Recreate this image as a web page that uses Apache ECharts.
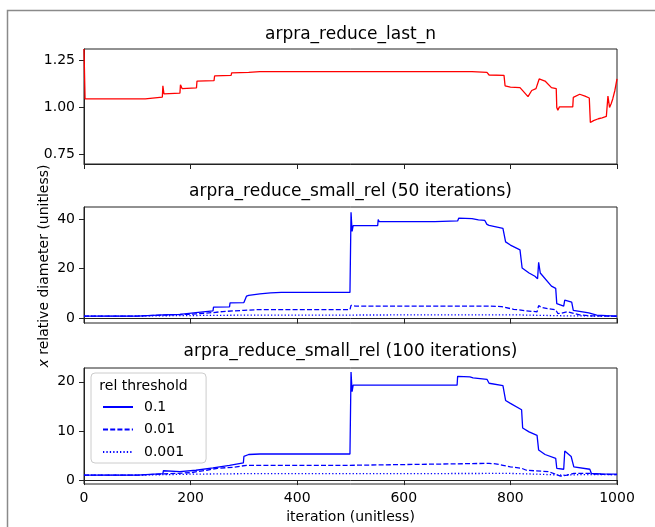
<!DOCTYPE html>
<html>
<head>
<meta charset="utf-8">
<script src="https://cdn.jsdelivr.net/npm/echarts@6/dist/echarts.min.js"></script>
<style>
html,body{margin:0;padding:0;background:#fff;}
#chart{width:655px;height:527px;}
</style>
</head>
<body>
<div id="chart"></div>
<script>
// ---- data ----
const xTicks = [0, 200, 400, 600, 800, 1000];
const topTicks = [0.75, 1.00, 1.25];
const midTicks = [0, 20, 40];
const botTicks = [0, 10, 20];
const legendNames = ['0.1', '0.01', '0.001'];

const redX = [0,2,10,12,14,115,116,147,148,150,180,181,184,211,212,244,245,276,277,309,330,728,756,760,788,790,800,818,826,833,840,848,854,860,865,877,886,887,889,892,917,918,930,940,948,950,953,956,959,965,972,980,983,986,989,992,996,1000];
const redY = [1.31,1.045,1.045,1.052,1.045,1.045,1.052,1.055,1.115,1.072,1.076,1.12,1.10,1.104,1.14,1.142,1.167,1.170,1.183,1.186,1.19,1.19,1.186,1.172,1.170,1.115,1.108,1.105,1.08,1.057,1.09,1.10,1.151,1.145,1.14,1.105,1.10,1.00,0.985,1.003,1.003,1.053,1.07,1.06,1.05,0.92,0.915,0.93,0.92,0.94,0.945,0.952,1.06,1.00,1.02,1.045,1.09,1.151];

const s50X = [0,100,102,148,149,151,180,181,210,211,242,243,273,274,300,305,309,330,350,370,452,453,455,499,501,503,505,551,552,554,658,660,701,703,728,740,752,753,756,760,786,788,791,800,818,822,835,846,851,853,856,877,885,887,900,902,915,918,947,962,980,1000];
const s50Y = [1.0,1.0,1.4,1.5,2.0,1.6,1.7,2.3,2.4,3.0,3.1,4.6,4.7,6.3,6.4,9.0,9.3,9.9,10.3,10.5,10.5,10.9,10.5,10.5,42.7,35.0,37.3,37.3,39.8,38.9,38.9,39.2,39.2,40.3,40.1,39.6,39.4,39.9,37.8,37.4,36.2,36.0,30.8,29.5,27.6,20.3,18.3,17.0,16.0,22.6,18.3,13.0,12.1,6.0,5.0,7.4,6.6,3.3,2.3,1.4,1.2,1.0];
const d50X = [0,100,102,150,200,211,243,260,300,330,499,501,503,510,760,783,806,830,850,853,858,870,885,889,895,907,919,932,950,1000];
const d50Y = [1.0,1.0,1.2,1.4,1.7,1.9,2.4,2.8,3.3,3.6,3.6,5.3,4.8,5.0,5.0,4.8,3.7,3.1,2.7,5.2,4.5,4.0,3.5,2.0,2.1,2.7,2.0,1.4,1.1,0.9];
const t50X = [0,100,102,200,300,500,502,800,850,900,1000];
const t50Y = [1.0,1.0,1.1,1.2,1.35,1.4,1.55,1.5,1.3,1.1,0.95];

const s100X = [0,100,102,148,149,151,180,210,212,242,243,273,274,299,300,309,330,499,501,503,505,700,701,724,730,756,760,786,788,791,800,821,823,835,850,853,865,885,887,900,902,914,919,949,952,970,1000];
const s100Y = [1.0,1.0,1.2,1.3,1.9,1.5,1.7,2.0,2.4,2.5,2.9,3.0,3.4,3.5,4.8,5.2,5.3,5.3,22.0,18.0,19.3,19.3,21.1,21.0,20.8,20.5,19.7,19.2,18.8,16.2,15.6,14.3,10.6,9.8,9.1,6.1,5.2,4.4,2.4,2.2,5.9,4.8,2.7,2.2,1.35,1.25,1.2];
const d100X = [0,100,102,200,230,250,280,305,499,501,760,772,786,800,821,830,858,871,885,894,906,919,949,960,1000];
const d100Y = [1.0,1.0,1.2,1.5,2.0,2.4,2.6,3.0,3.0,3.4,3.4,3.3,3.0,2.7,2.4,2.0,1.8,1.7,1.2,0.8,1.0,1.35,1.35,1.2,1.1];
const t100X = [0,100,102,200,300,500,502,800,850,900,930,1000];
const t100Y = [1.0,1.0,1.1,1.2,1.3,1.3,1.4,1.35,1.2,1.0,1.1,1.1];

// ---- chart ----
const FONT = 'DejaVu Sans';
const AX = '#222';
const zip = (xs, ys) => xs.map((x, i) => [x, ys[i]]);

const grids = [
  {left: 84, top: 49, width: 533, height: 115},
  {left: 84, top: 207, width: 533, height: 116},
  {left: 84, top: 368, width: 533, height: 116}
].map(g => Object.assign(g, {show: true, borderColor: AX, borderWidth: 1, backgroundColor: 'transparent'}));

function xAx(i, showLabel) {
  return {
    type: 'value', gridIndex: i, min: 0, max: 1000, interval: 200,
    axisLine: {show: true, lineStyle: {color: AX, width: 1}},
    axisTick: {show: true, inside: false, length: 5, lineStyle: {color: AX}, customValues: xTicks},
    axisLabel: {show: showLabel, fontFamily: FONT, fontSize: 14, color: '#000', margin: 7, customValues: xTicks,
      formatter: v => String(v)},
    splitLine: {show: false}
  };
}
function yAx(i, min, max, ticks, digits) {
  return {
    type: 'value', gridIndex: i, min: min, max: max,
    axisLine: {show: true, lineStyle: {color: AX, width: 1}},
    axisTick: {show: true, inside: false, length: 5, lineStyle: {color: AX}, customValues: ticks},
    axisLabel: {fontFamily: FONT, fontSize: 14, color: '#000', margin: 9, customValues: ticks,
      formatter: v => Number(v).toFixed(digits)},
    splitLine: {show: false}
  };
}
function ln(name, xi, xs, ys, color, type) {
  return {
    name: name, type: 'line', xAxisIndex: xi, yAxisIndex: xi,
    data: zip(xs, ys), symbol: 'none', showSymbol: false, clip: true,
    lineStyle: {color: color, width: 1.3, type: type}, itemStyle: {color: color},
    emphasis: {disabled: true}, animation: false
  };
}
const dashed = [5, 2.2];
const dotted = [1.3, 2.1];

const titles = ['arpra_reduce_last_n', 'arpra_reduce_small_rel (50 iterations)', 'arpra_reduce_small_rel (100 iterations)'];
const titleY = [35, 192, 352];

const chart = echarts.init(document.getElementById('chart'), null, {renderer: 'canvas'});
chart.setOption({
  animation: false,
  backgroundColor: '#fff',
  textStyle: {fontFamily: FONT},
  grid: grids,
  xAxis: [xAx(0, false), xAx(1, false), xAx(2, true)],
  yAxis: [yAx(0, 0.70, 1.31, topTicks, 2), yAx(1, -1.8, 44.8, midTicks, 0), yAx(2, -0.8, 22.8, botTicks, 0)],
  legend: {
    data: legendNames, orient: 'vertical', left: 91, top: 373,
    padding: [27, 22, 4, 11], itemGap: 8.5, itemWidth: 30, itemHeight: 14,
    borderColor: '#cccccc', borderWidth: 1, borderRadius: 4,
    backgroundColor: 'rgba(255,255,255,0.8)', selectedMode: false,
    itemStyle: {opacity: 0},
    textStyle: {fontFamily: FONT, fontSize: 14, color: '#000', padding: [0, 0, 0, 6]}
  },
  series: [
    ln('red', 0, redX, redY, '#ff0000', 'solid'),
    ln(legendNames[0], 1, s50X, s50Y, '#0000ff', 'solid'),
    ln(legendNames[1], 1, d50X, d50Y, '#0000ff', dashed),
    ln(legendNames[2], 1, t50X, t50Y, '#0000ff', dotted),
    ln(legendNames[0], 2, s100X, s100Y, '#0000ff', 'solid'),
    ln(legendNames[1], 2, d100X, d100Y, '#0000ff', dashed),
    ln(legendNames[2], 2, t100X, t100Y, '#0000ff', dotted)
  ],
  graphic: [
    {type: 'rect', shape: {x: 7.5, y: 10.5, width: 700, height: 600}, style: {fill: 'none', stroke: '#8a8a8a', lineWidth: 1.5}, silent: true, z: 0},
    ...titles.map((t, i) => ({type: 'text', x: 350.5, y: titleY[i], z: 50,
      style: {text: t, fontFamily: FONT, fontSize: 17, fill: '#000', align: 'center', verticalAlign: 'middle'}})),
    {type: 'text', x: 350.5, y: 517, z: 50,
      style: {text: 'iteration (unitless)', fontFamily: FONT, fontSize: 14, fill: '#000', align: 'center', verticalAlign: 'middle'}},
    {type: 'text', x: 44, y: 266, rotation: Math.PI / 2, z: 50,
      style: {text: '{i|x} relative diameter (unitless)', fontFamily: FONT, fontSize: 14, fill: '#000', align: 'center', verticalAlign: 'middle',
        rich: {i: {fontStyle: 'italic', fontFamily: FONT, fontSize: 14, fill: '#000'}}}},
    {type: 'text', x: 143.5, y: 386, z: 100,
      style: {text: 'rel threshold', fontFamily: FONT, fontSize: 14, fill: '#000', align: 'center', verticalAlign: 'middle'}}
  ]
});
</script>
</body>
</html>
